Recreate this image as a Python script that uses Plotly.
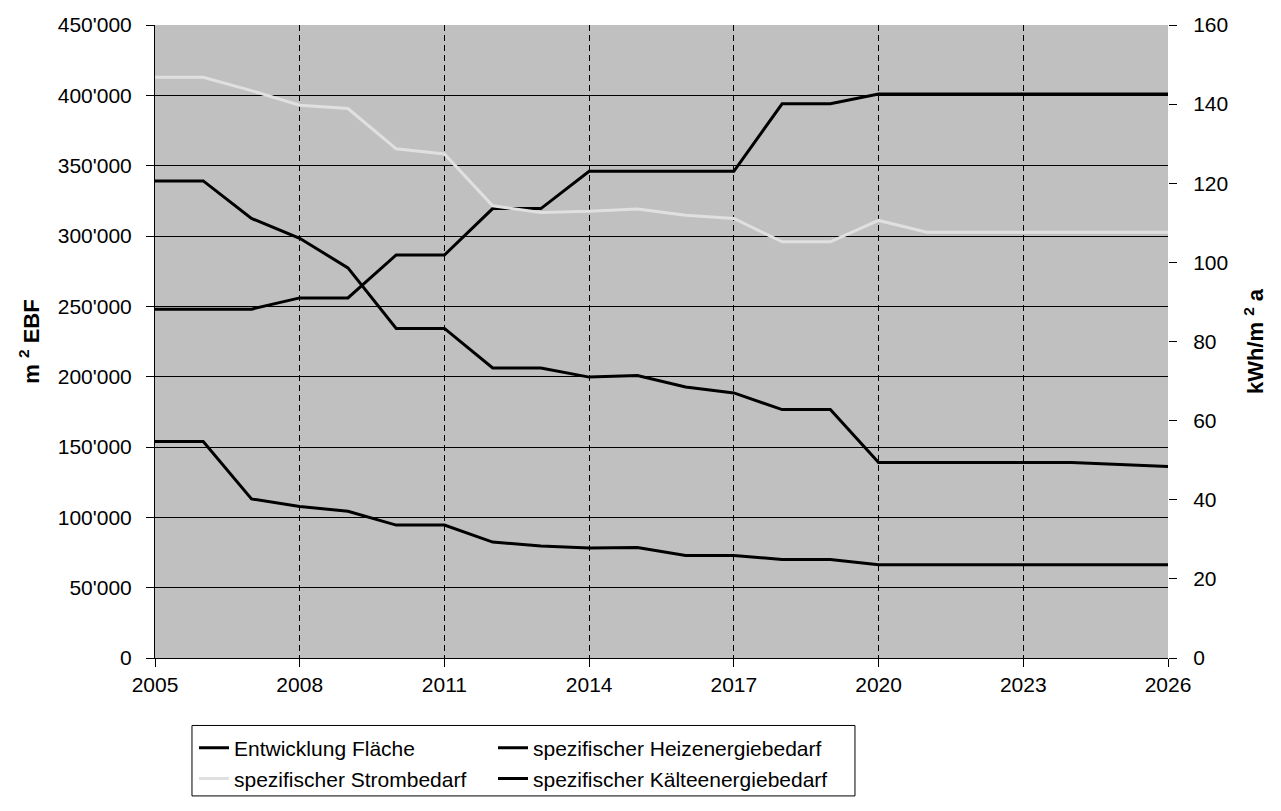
import plotly.graph_objects as go

# Jahre der Prognose
years = list(range(2005, 2027))

# Energiebezugsfläche (m² EBF, linke Achse)
flaeche = [248000, 248000, 248000, 256000, 256000, 286500, 286500, 319500, 319500, 346000,
           346000, 346000, 346000, 394000, 394000,
           401000, 401000, 401000, 401000, 401000, 401000, 401000]

# spezifische Kennwerte (kWh/m² a, rechte Achse)
heiz = [120.6, 120.6, 111.1, 106.1, 98.6, 83.3, 83.3, 73.3, 73.3, 71.0,
        71.4, 68.5, 67.0, 62.8, 62.8,
        49.4, 49.4, 49.4, 49.4, 49.4, 48.9, 48.4]
strom = [146.8, 146.8, 143.4, 139.7, 138.9, 128.7, 127.4, 114.3, 112.6, 112.9,
         113.5, 111.9, 111.1, 105.2, 105.2,
         110.6, 107.6, 107.6, 107.6, 107.6, 107.6, 107.6]
kaelte = [54.7, 54.7, 40.2, 38.3, 37.1, 33.6, 33.6, 29.3, 28.3, 27.8,
          27.9, 25.9, 25.9, 24.9, 24.9,
          23.6, 23.6, 23.6, 23.6, 23.6, 23.6, 23.6]

FONT = "Liberation Sans"
BLACK = "#000000"
LIGHT = "#e0e0e0"

fig = go.Figure()
fig.add_trace(go.Scatter(x=years, y=strom, name="spezifischer Strombedarf", yaxis="y2",
                         mode="lines", line=dict(color=LIGHT, width=3),
                         legend="legend2", legendwidth=254))
fig.add_trace(go.Scatter(x=years, y=flaeche, name="Entwicklung Fläche", yaxis="y",
                         mode="lines", line=dict(color=BLACK, width=3),
                         legend="legend", legendwidth=254))
fig.add_trace(go.Scatter(x=years, y=heiz, name="spezifischer Heizenergiebedarf", yaxis="y2",
                         mode="lines", line=dict(color=BLACK, width=3),
                         legend="legend", legendwidth=330))
fig.add_trace(go.Scatter(x=years, y=kaelte, name="spezifischer Kälteenergiebedarf", yaxis="y2",
                         mode="lines", line=dict(color=BLACK, width=3),
                         legend="legend2", legendwidth=330))

tickfont = dict(family=FONT, size=21, color=BLACK)
legfont = dict(family=FONT, size=21, color=BLACK)
titlefont = dict(family=FONT, size=22, color=BLACK)

fig.update_layout(
    width=1281, height=811,
    margin=dict(l=155, r=113, t=25, b=148),
    paper_bgcolor="white",
    plot_bgcolor="#c0c0c0",
    separators=".'",
    font=dict(family=FONT, color=BLACK),
    xaxis=dict(
        range=[2005, 2026], tickmode="array", tickvals=list(range(2005, 2027, 3)),
        ticks="outside", ticklen=8, tickcolor=BLACK, tickwidth=1,
        showline=True, linecolor=BLACK, linewidth=1,
        showgrid=True, gridcolor=BLACK, gridwidth=1, griddash="6px,4px",
        zeroline=False, tickfont=tickfont,
    ),
    yaxis=dict(
        range=[0, 450000], dtick=50000, tickformat=",d",
        ticks="outside", ticklen=8, tickcolor=BLACK, tickwidth=1,
        showline=True, linecolor=BLACK, linewidth=1,
        showgrid=True, gridcolor=BLACK, gridwidth=1, zeroline=False,
        tickfont=tickfont, ticklabelstandoff=10,
        title=dict(text="<b>m <sup>2</sup> EBF</b>", font=titlefont, standoff=12),
    ),
    yaxis2=dict(
        range=[0, 160], dtick=20, overlaying="y", side="right",
        ticks="outside", ticklen=8, tickcolor=BLACK, tickwidth=1,
        showline=False, showgrid=False, zeroline=False,
        tickfont=tickfont, ticklabelstandoff=12,
        title=dict(text="<b>kWh/m <sup>2</sup> a</b>", font=titlefont, standoff=20),
    ),
    legend=dict(
        orientation="h", x=0.0385, xanchor="left", y=-0.110, yanchor="top",
        entrywidthmode="pixels", font=legfont,
        bgcolor="rgba(0,0,0,0)", borderwidth=0, traceorder="normal",
    ),
    legend2=dict(
        orientation="h", x=0.0385, xanchor="left", y=-0.1586, yanchor="top",
        entrywidthmode="pixels", font=legfont,
        bgcolor="rgba(0,0,0,0)", borderwidth=0, traceorder="normal",
    ),
    shapes=[dict(
        type="rect", xref="paper", yref="paper",
        x0=0.0365, x1=0.691, y0=-0.1066, y1=-0.2179,
        line=dict(color=BLACK, width=1), fillcolor="white", layer="above",
    )],
    showlegend=True,
)

fig.write_html("out.html")
